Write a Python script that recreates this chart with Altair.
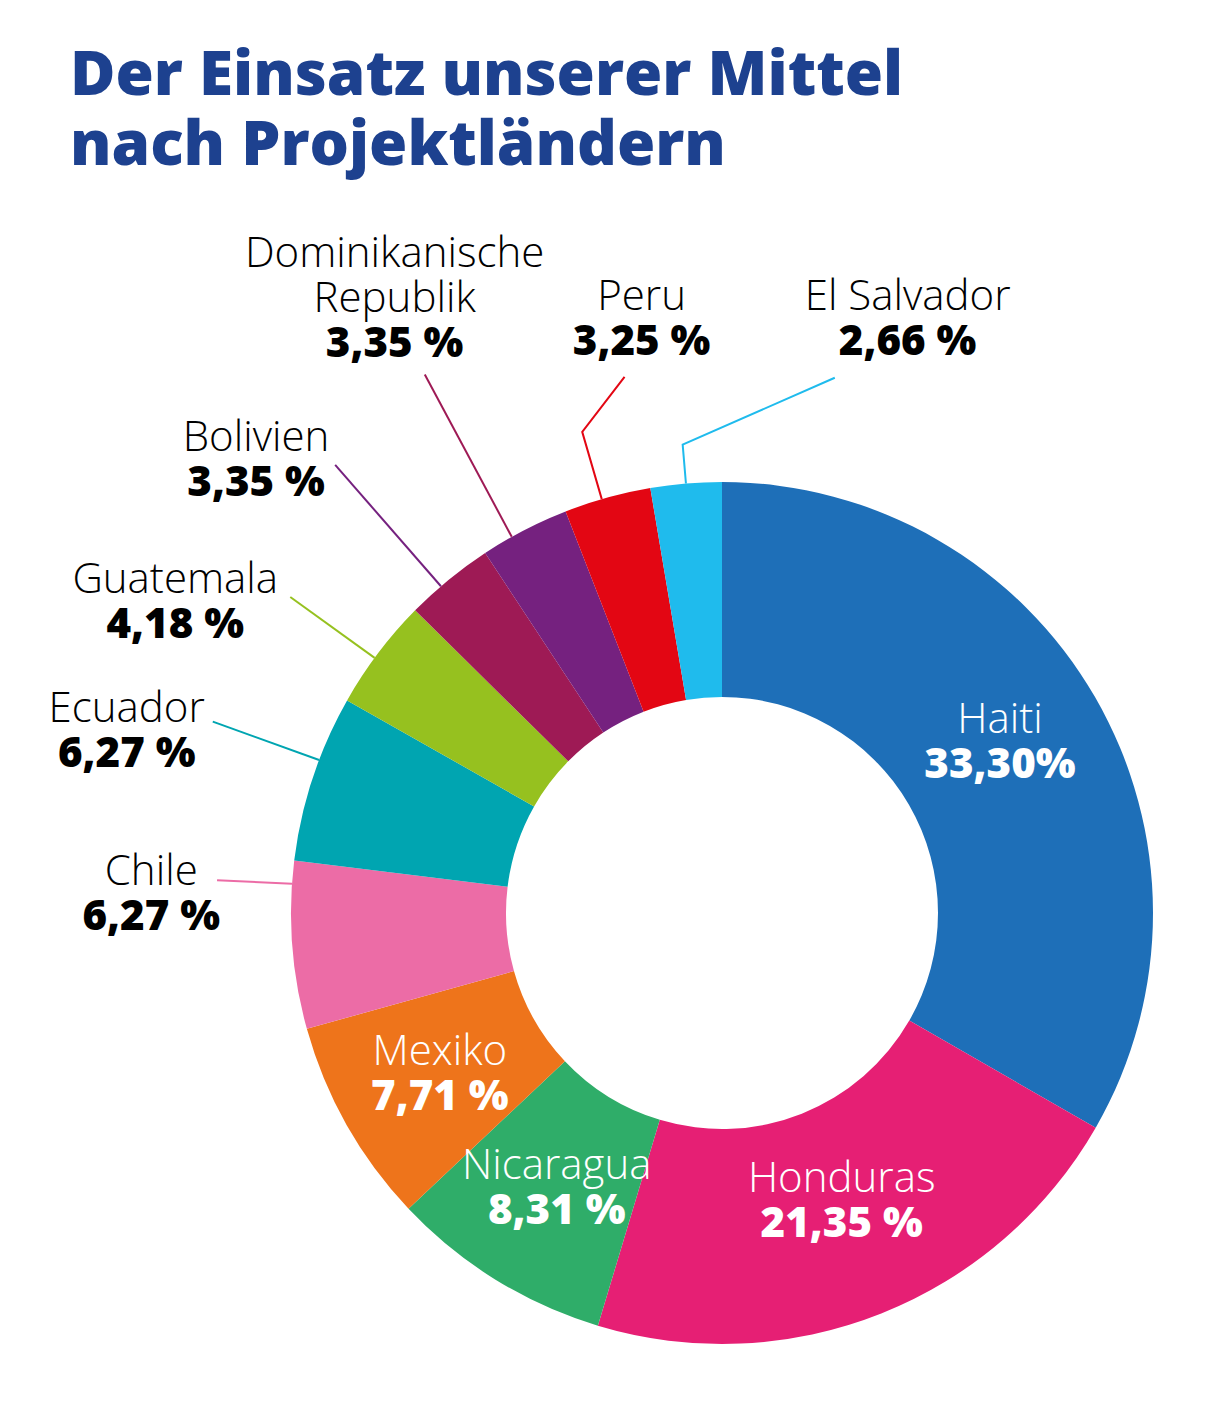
import math
import altair as alt
import pandas as pd

# ---- data ----
countries = ["Haiti", "Honduras", "Nicaragua", "Mexiko", "Chile", "Ecuador",
             "Guatemala", "Bolivien", "Dominikanische\nRepublik", "Peru", "El Salvador"]
shares = [33.30, 21.35, 8.31, 7.71, 6.27, 6.27, 4.18, 3.35, 3.35, 3.25, 2.66]
share_text = ["33,30%", "21,35 %", "8,31 %", "7,71 %", "6,27 %", "6,27 %",
              "4,18 %", "3,35 %", "3,35 %", "3,25 %", "2,66 %"]
slice_colors = ["#1e6fb8", "#e61f74", "#2fad69", "#ee741b", "#ec6ca6", "#00a5b1",
                "#96c11f", "#9e1a55", "#75217f", "#e30613", "#1fbbed"]
inside = [True, True, True, True, False, False, False, False, False, False, False]

# ---- label layout (polar: degrees clockwise from 12 o'clock, px from centre) ----
label_angle = [64.1, 159.7, 208.0, 235.1, 268.3, 283.8, 296.7, 311.8, 329.5, 351.8, 18.4]
label_radius = [309, 345, 352, 344, 571, 613, 612, 625, 645, 564, 588]
leader_points = [None, None, None, None,
                 [(273.9, 431), (273.7, 506)],
                 [(290.8, 431), (290.6, 544)],
                 [(306.3, 431), (306.2, 535)],
                 [(319.3, 431), (319.2, 592)],
                 [(330.8, 431), (331.1, 615)],
                 [(343.8, 431), (343.8, 501), (349.7, 545)],
                 [(355.2, 431), (355.2, 470), (11.9, 547)]]
leader_colors = [None, None, None, None, "#ec6ca6", "#00a5b1", "#96c11f",
                 "#75217f", "#9e1a55", "#e30613", "#1fbbed"]

W, H_TOTAL = 1217, 1406
TOP = 200
H = H_TOTAL - TOP
CX, CY = 722, 913 - TOP
R_IN, R_OUT = 216, 431
LINE_H = 45


def polar(a, r):
    t = math.radians(a)
    return CX + r * math.sin(t), CY - r * math.cos(t)


slices = pd.DataFrame({"country": countries, "share": shares,
                       "idx": list(range(len(countries))), "col": slice_colors})

name_rows, value_rows, line_rows = [], [], []
for i, c in enumerate(countries):
    x, y = polar(label_angle[i], label_radius[i])
    tc = "#ffffff" if inside[i] else "#000000"
    value_rows.append({"x": x, "y": y, "t": share_text[i], "tc": tc})
    parts = c.split("\n")
    n = len(parts)
    for k, p in enumerate(parts):
        name_rows.append({"x": x, "y": y - LINE_H * (n - k), "t": p, "tc": tc})
    if leader_points[i]:
        for k, (a, r) in enumerate(leader_points[i]):
            lx, ly = polar(a, r)
            line_rows.append({"id": i, "k": k, "x": lx, "y": ly, "lc": leader_colors[i]})

names_df = pd.DataFrame(name_rows)
values_df = pd.DataFrame(value_rows)
lines_df = pd.DataFrame(line_rows)

xs = alt.Scale(domain=[0, W], range=[0, W], nice=False, zero=False)
ys = alt.Scale(domain=[0, H], range=[0, H], nice=False, zero=False)

arcs = alt.Chart(slices).mark_arc(innerRadius=R_IN, outerRadius=R_OUT).encode(
    theta=alt.Theta("share:Q", stack=True),
    color=alt.Color("col:N", scale=None),
    order=alt.Order("idx:Q"),
    x=alt.value(CX),
    y=alt.value(CY),
)

leaders = alt.Chart(lines_df).mark_line(strokeWidth=2).encode(
    x=alt.X("x:Q", scale=xs, axis=None),
    y=alt.Y("y:Q", scale=ys, axis=None),
    detail="id:N",
    order="k:Q",
    color=alt.Color("lc:N", scale=None),
)

name_text = alt.Chart(names_df).mark_text(
    align="center", baseline="alphabetic", font="Open Sans", fontSize=42, fontWeight=300
).encode(
    x=alt.X("x:Q", scale=xs, axis=None),
    y=alt.Y("y:Q", scale=ys, axis=None),
    text="t:N",
    color=alt.Color("tc:N", scale=None),
)

value_text = alt.Chart(values_df).mark_text(
    align="center", baseline="alphabetic", font="Open Sans", fontSize=42, fontWeight=800
).encode(
    x=alt.X("x:Q", scale=xs, axis=None),
    y=alt.Y("y:Q", scale=ys, axis=None),
    text="t:N",
    color=alt.Color("tc:N", scale=None),
)

chart = alt.layer(arcs, leaders, name_text, value_text).properties(
    width=W, height=H,
    background="#ffffff",
    autosize=alt.AutoSizeParams(type="none"),
    padding={"left": 0, "top": TOP, "right": 0, "bottom": 0},
    title=alt.Title(["Der Einsatz unserer Mittel", "nach Projektländern"],
                    anchor="start", dx=70, fontSize=62, font="Open Sans",
                    fontWeight=800, color="#1d418f", lineHeight=70, offset=22),
).configure_view(strokeWidth=0, stroke=None)

chart.save("out.html", embed_options={"renderer": "svg", "actions": False})
